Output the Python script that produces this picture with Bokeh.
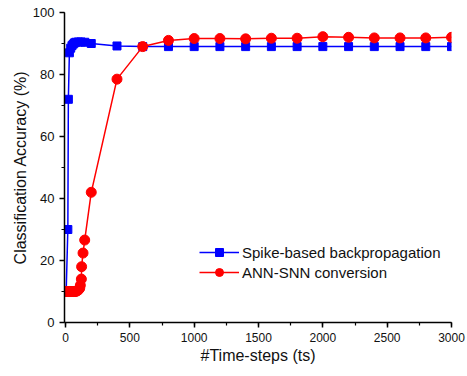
from bokeh.plotting import figure
from bokeh.models import Range1d, Legend, LegendItem, SingleIntervalTicker
from bokeh.embed import file_html
from bokeh.resources import INLINE

# Spike-based backpropagation
spike_ts = [5, 18, 22, 30, 40, 50, 60, 70, 80, 100, 120, 150, 200,
            400, 600, 800, 1000, 1200, 1400, 1600, 1800, 2000, 2200, 2400, 2600, 2800, 3000]
spike_acc = [10, 30, 72, 87, 88.5, 89.3, 89.8, 90.2, 90.4, 90.5, 90.5, 90.4, 90.0,
             89.2, 89.0, 89.0, 89.0, 89.0, 89.0, 89.0, 89.0, 89.0, 89.0, 89.0, 89.0, 89.0, 89.0]

# ANN-SNN conversion
conv_ts = [0, 10, 20, 30, 40, 50, 60, 70, 80, 90, 100, 110, 115, 123, 125, 136, 149, 200,
           400, 600, 800, 1000, 1200, 1400, 1600, 1800, 2000, 2200, 2400, 2600, 2800, 3000]
conv_acc = [10, 10, 10, 10, 10, 10, 10, 10, 10, 10.2, 10.5, 11, 12, 14, 18, 22.4, 26.6, 42,
            78.5, 89, 91, 91.6, 91.6, 91.5, 91.7, 91.7, 92.2, 92.0, 91.8, 91.8, 91.8, 92.0]

x_major = [0, 500, 1000, 1500, 2000, 2500, 3000]
y_major = [0, 20, 40, 60, 80, 100]

FONT = "Liberation Sans"

p = figure(width=467, height=376, output_backend="svg", toolbar_location=None,
           x_range=Range1d(-8, 3000), y_range=Range1d(0, 100),
           min_border_left=64, min_border_right=16, min_border_top=12, min_border_bottom=54)
p.outline_line_color = None
p.xgrid.visible = False
p.ygrid.visible = False
p.background_fill_color = "white"

r1l = p.line(spike_ts, spike_acc, line_color="#0000ff", line_width=1.5)
r1m = p.scatter(spike_ts, spike_acc, marker="square", size=8, fill_color="#0000ff", line_color="#0000ff")
r2l = p.line(conv_ts, conv_acc, line_color="#ff0000", line_width=1.5)
r2m = p.scatter(conv_ts, conv_acc, marker="circle", size=10, fill_color="#ff0000", line_color="#ff0000")

for ax in (p.xaxis[0], p.yaxis[0]):
    ax.axis_line_width = 1.5
    ax.axis_line_color = "black"
    ax.major_tick_line_color = "black"
    ax.minor_tick_line_color = "black"
    ax.major_tick_line_width = 1.5
    ax.minor_tick_line_width = 1.2
    ax.major_tick_in = 0
    ax.major_tick_out = 5
    ax.minor_tick_in = 0
    ax.minor_tick_out = 3
    ax.major_label_text_font = FONT
    ax.major_label_text_color = "#111111"
    ax.axis_label_text_font = FONT
    ax.axis_label_text_font_style = "normal"
    ax.axis_label_text_font_size = "16px"
    ax.axis_label_text_color = "#111111"

p.xaxis.ticker = SingleIntervalTicker(interval=500, num_minor_ticks=2)
p.yaxis.ticker = SingleIntervalTicker(interval=20, num_minor_ticks=2)
p.xaxis.major_label_text_font_size = "12px"
p.yaxis.major_label_text_font_size = "13px"
p.xaxis.axis_label = "#Time-steps (ts)"
p.yaxis.axis_label = "Classification Accuracy (%)"
p.xaxis.major_label_standoff = 5
p.yaxis.major_label_standoff = 5
p.xaxis.axis_label_standoff = 2
p.yaxis.axis_label_standoff = 1

legend = Legend(items=[
    LegendItem(label="Spike-based backpropagation", renderers=[r1l, r1m]),
    LegendItem(label="ANN-SNN conversion", renderers=[r2l, r2m]),
], location=(135, 40))
legend.border_line_color = None
legend.background_fill_alpha = 0
legend.padding = 0
legend.margin = 0
legend.spacing = 0
legend.glyph_width = 40
legend.glyph_height = 20
legend.label_height = 20
legend.label_standoff = 3
legend.label_text_font = FONT
legend.label_text_font_size = "15px"
legend.label_text_color = "#111111"
p.add_layout(legend, "center")

open("out.html", "w").write(file_html(p, INLINE))
